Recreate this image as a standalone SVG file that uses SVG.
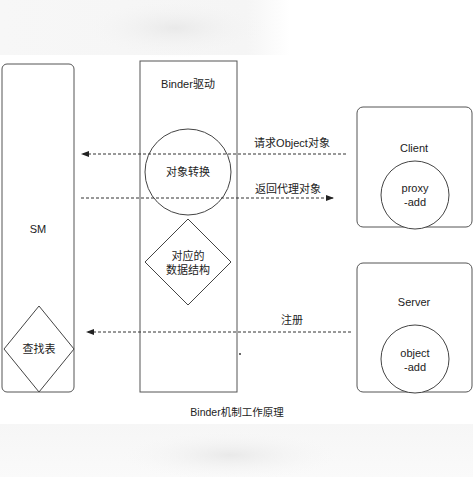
<svg xmlns="http://www.w3.org/2000/svg" width="473" height="477" viewBox="0 0 473 477">
<style>
.box{fill:#fff;stroke:#555;stroke-width:1}
.shape{fill:#fff;stroke:#444;stroke-width:1}
.t{font-family:"Liberation Sans","Noto Sans CJK SC",sans-serif;font-size:11px;fill:#222;text-anchor:middle}
.dash{fill:none;stroke:#333;stroke-width:1;stroke-dasharray:3 2}
</style>
<defs>
<marker id="ah" viewBox="0 0 8 8" refX="7" refY="4" markerWidth="8" markerHeight="8" markerUnits="userSpaceOnUse" orient="auto">
<path d="M0,1 L8,4 L0,7 Z" fill="#222"/>
</marker>
<radialGradient id="gt" cx="0.5" cy="0.5" r="0.5">
<stop offset="0" stop-color="#e9e9e9"/>
<stop offset="1" stop-color="#f7f7f7" stop-opacity="0"/>
</radialGradient>
<linearGradient id="gh" x1="0" y1="0" x2="1" y2="0">
<stop offset="0" stop-color="#f7f7f7"/>
<stop offset="0.85" stop-color="#f5f5f5"/>
<stop offset="1" stop-color="#ffffff"/>
</linearGradient>
<linearGradient id="gb" x1="0" y1="0" x2="0" y2="1">
<stop offset="0" stop-color="#f6f6f6"/>
<stop offset="1" stop-color="#fafafa"/>
</linearGradient>
</defs>
<rect width="473" height="477" fill="#fff"/>
<rect x="0" y="0" width="290" height="55" fill="url(#gh)"/>
<ellipse cx="175" cy="28" rx="95" ry="30" fill="url(#gt)"/>
<rect x="0" y="424" width="473" height="53" fill="url(#gb)"/>
<ellipse cx="230" cy="455" rx="110" ry="25" fill="url(#gt)"/>
<g id="sm">
<rect class="box" x="2" y="64" width="72" height="328" rx="5"/>
<text class="t" x="38" y="233">SM</text>
</g>
<g id="lookup">
<polygon class="shape" points="39,306 74,349 39,392 4,349"/>
<text class="t" x="39" y="353">查找表</text>
</g>
<g id="binder">
<rect class="box" x="140" y="61" width="97" height="331"/>
<text class="t" x="188" y="88">Binder驱动</text>
</g>
<g id="convert">
<circle class="shape" cx="188" cy="172" r="43"/>
<text class="t" x="188" y="176">对象转换</text>
</g>
<g id="datastruct">
<polygon class="shape" points="188,219 231,262 188,305 145,262"/>
<text class="t" x="188" y="260">对应的</text>
<text class="t" x="188" y="274">数据结构</text>
</g>
<g id="client">
<rect class="box" x="357" y="107" width="115" height="120" rx="6"/>
<text class="t" x="414" y="152">Client</text>
</g>
<g id="proxy">
<circle class="shape" cx="415" cy="195" r="34"/>
<text class="t" x="415" y="192">proxy</text>
<text class="t" x="415" y="206">-add</text>
</g>
<g id="server">
<rect class="box" x="357" y="263" width="115" height="129" rx="6"/>
<text class="t" x="414" y="306">Server</text>
</g>
<g id="object">
<circle class="shape" cx="415" cy="359" r="34"/>
<text class="t" x="415" y="357">object</text>
<text class="t" x="415" y="371">-add</text>
</g>
<g id="connectors">
<line class="dash" x1="346" y1="154" x2="82" y2="154" marker-end="url(#ah)"/>
<text class="t" x="292" y="147">请求Object对象</text>
<line class="dash" x1="81" y1="198" x2="333" y2="198" marker-end="url(#ah)"/>
<text class="t" x="288" y="193">返回代理对象</text>
<line class="dash" x1="351" y1="332" x2="87" y2="332" marker-end="url(#ah)"/>
<text class="t" x="292" y="324">注册</text>
</g>
<circle cx="240" cy="354" r="0.9" fill="#222"/>
<text x="237" y="416" font-family="Liberation Sans,'Noto Sans CJK SC',sans-serif" font-size="10.5" fill="#222" text-anchor="middle">Binder机制工作原理</text>
</svg>
